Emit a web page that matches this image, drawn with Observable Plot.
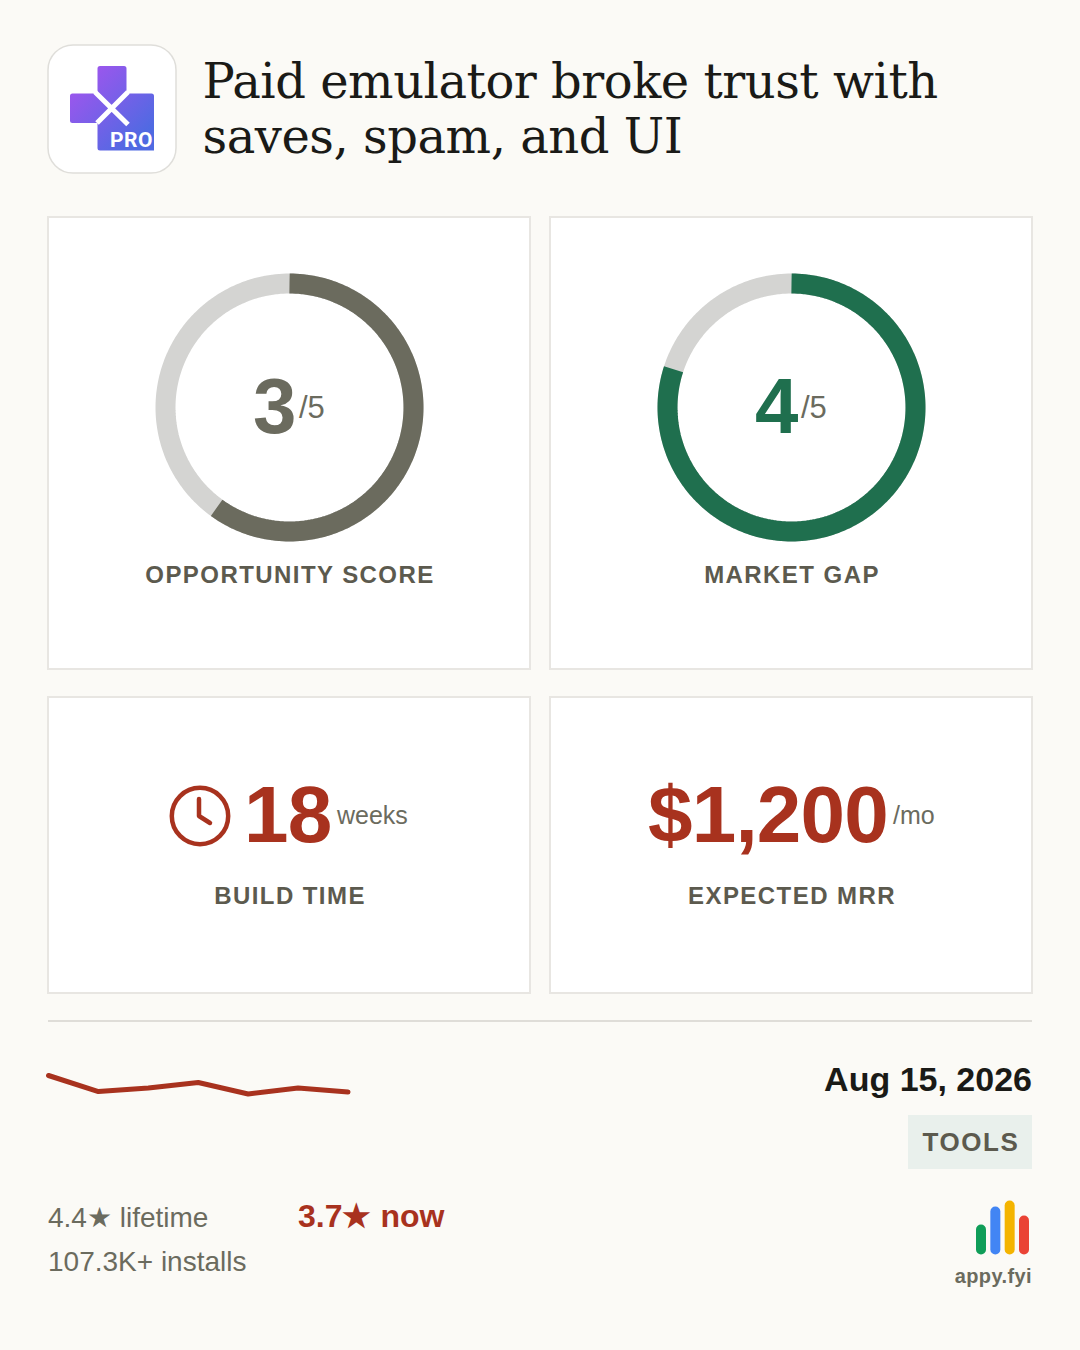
<!DOCTYPE html>
<html><head><meta charset="utf-8">
<script src="https://cdn.jsdelivr.net/npm/d3@7"></script>
<script src="https://cdn.jsdelivr.net/npm/@observablehq/plot@0.6"></script>
<style>
html,body{margin:0;padding:0;background:#fbfaf6}
#page{position:relative;width:1080px;height:1350px;background:#fbfaf6;overflow:hidden;font-family:"Liberation Sans",sans-serif}
.a{position:absolute;white-space:nowrap;line-height:1}
.card{position:absolute;box-sizing:border-box;background:#fff;border:2px solid #e8e6e2}
.lab{font-weight:700;font-size:24px;letter-spacing:1.44px;color:#5c5a4e;text-align:center}
svg{display:block}
</style></head><body><div id="page"></div>
<script>
const title = ["Paid emulator broke trust with", "saves, spam, and UI"];
const scoreLabels = ["OPPORTUNITY SCORE", "MARKET GAP"];
const scores = [3, 4];
const scoreMax = 5;
const scoreColors = ["#6b6b5e", "#1f6f4e"];
const trackColor = "#d4d4d2";
const buildWeeks = 18;
const mrr = "$1,200";
const sparkRatings = [4.40, 3.74, 3.885, 4.11, 3.64, 3.885, 3.72];
const dateLabel = "Aug 15, 2026";
const tagLabel = "TOOLS";
const logoBars = [30, 48, 54, 39];
const logoColors = ["#0f9d58", "#4285f4", "#f4b400", "#ea4335"];
const red = "#a8321e";

const page = document.getElementById("page");
function add(html, css, cls = "a") {
  const d = document.createElement("div");
  d.className = cls; d.style.cssText = css; d.innerHTML = html;
  page.appendChild(d); return d;
}
function place(node, left, top) {
  node.style.position = "absolute"; node.style.left = left + "px"; node.style.top = top + "px";
  node.style.background = "transparent"; page.appendChild(node);
}

// app icon
add(`<svg width="130" height="130" viewBox="0 0 130 130">
<defs><linearGradient id="g" x1="0" y1="0" x2="1" y2="1"><stop offset="0.1" stop-color="#a155ee"/><stop offset="0.85" stop-color="#4f6ae2"/></linearGradient></defs>
<rect x="1" y="1" width="128" height="128" rx="25" fill="#fff" stroke="#dfdeda" stroke-width="1.5"/>
<path fill="url(#g)" d="M53 22h24a2.500 2.500 0 0 1 2.500 2.500V49.500h25a2.500 2.500 0 0 1 2.500 2.500V106.500H53a2.500 2.500 0 0 1-2.500-2.500V79h-25a2.500 2.500 0 0 1-2.500-2.500V52a2.500 2.500 0 0 1 2.500-2.500h25V24.500a2.500 2.500 0 0 1 2.500-2.500z"/>
<path d="M48 48L81 80.500M81 48L50 79" stroke="#fff" stroke-width="5" fill="none"/>
<text x="63" y="102.500" font-family="Roboto" font-weight="700" font-size="21" fill="#fff" letter-spacing="0.500">PRO</text>
</svg>`, "left:47px;top:44px");

// title
title.forEach((t, i) => add(t, `left:202.500px;top:${57 + i * 54.500}px;font-family:'DejaVu Serif',serif;font-size:48px;letter-spacing:-0.48px;color:#1a1a17`));

// cards
[[47, 216, 484, 454], [549, 216, 484, 454], [47, 696, 484, 298], [549, 696, 484, 298]].forEach(c =>
  add("", `left:${c[0]}px;top:${c[1]}px;width:${c[2]}px;height:${c[3]}px`, "card"));

// donuts
function arc(fromFrac, toFrac) {
  const n = Math.max(2, Math.round((toFrac - fromFrac) * 240));
  return d3.range(n + 1).map(i => {
    const t = (fromFrac + (toFrac - fromFrac) * i / n) * 2 * Math.PI;
    return {x: Math.sin(t) * 124, y: Math.cos(t) * 124};
  });
}
scores.forEach((s, i) => {
  const left = i === 0 ? 148.500 : 650.500;
  const plot = Plot.plot({
    width: 280, height: 280, margin: 0, axis: null,
    x: {domain: [-140, 140], range: [0, 280]},
    y: {domain: [-140, 140], range: [280, 0]},
    marks: [
      Plot.line(arc(0, 1), {x: "x", y: "y", stroke: trackColor, strokeWidth: 20, curve: "linear", strokeLinecap: "butt"}),
      Plot.line(arc(0, s / scoreMax), {x: "x", y: "y", stroke: scoreColors[i], strokeWidth: 20, curve: "linear", strokeLinecap: "butt"})
    ]
  });
  place(plot, left, 266.500);
  const cx = (i === 0 ? 149 : 651) + 140;
  add(String(s), `left:${cx - 36}px;top:367px;font-weight:700;font-size:78px;color:${scoreColors[i]}`);
  add("/" + scoreMax, `left:${cx + 10}px;top:392px;font-size:31px;color:#6b6b5e`);
  add(scoreLabels[i], `left:${cx - 239}px;width:480px;top:563px;`, "a lab");
});

// build time
add(`<svg width="64" height="64" viewBox="0 0 64 64" fill="none" stroke="${red}" stroke-width="4.500" stroke-linecap="round" stroke-linejoin="round"><circle cx="32" cy="32" r="28.200"/><path d="M31 15V32L42 39"/></svg>`, "left:167.500px;top:783.500px");
add(String(buildWeeks), `left:244px;top:775px;font-weight:700;font-size:80px;letter-spacing:-0.8px;color:${red}`);
add("weeks", `left:337px;top:803px;font-size:25px;color:#6b6b5e`);
add("BUILD TIME", "left:50px;width:480px;top:884px", "a lab");

// MRR
add(mrr, `left:648px;top:775px;font-weight:700;font-size:80px;letter-spacing:-0.8px;color:${red}`);
add("/mo", `left:893px;top:803px;font-size:25px;color:#6b6b5e`);
add("EXPECTED MRR", "left:552px;width:480px;top:884px", "a lab");

// divider
add("", "left:48px;top:1020px;width:984px;height:2px;background:#dfddd8");

// sparkline
place(Plot.plot({
  width: 320, height: 60, margin: 0, axis: null,
  x: {domain: [0, sparkRatings.length - 1], range: [8, 307.500]},
  y: {domain: [4.4, 3.7], range: [15, 32]},
  marks: [Plot.line(sparkRatings, {x: (d, i) => i, y: d => d, stroke: red, strokeWidth: 5, strokeLinecap: "round", strokeLinejoin: "round", curve: "linear"})]
}), 40, 1060);

// date + tag
add(dateLabel, "right:48px;top:1062px;font-weight:700;font-size:34px;color:#1a1a17");
add(tagLabel, "left:908px;top:1115px;width:124px;height:54px;line-height:54px;text-indent:2px;text-align:center;background:#e9f0ec;font-weight:700;font-size:26px;letter-spacing:1.56px;color:#5c5a4e");

// stats
add("4.4★ lifetime", "left:48px;top:1204px;font-size:28px;color:#6b6b5e");
add("107.3K+ installs", "left:48px;top:1248px;font-size:28px;color:#6b6b5e");
add("3.7★ now", `left:298px;top:1200px;font-weight:700;font-size:32px;color:${red}`);

// logo bars
place(Plot.plot({
  width: 70, height: 64, margin: 0, axis: null,
  x: {domain: [0, 3], range: [10.500, 53.500]},
  y: {domain: [0, 54], range: [59, 5]},
  marks: [Plot.link(logoBars, {x1: (d, i) => i, x2: (d, i) => i, y1: d => 5, y2: d => d - 5, stroke: (d, i) => logoColors[i], strokeWidth: 10, strokeLinecap: "round"})]
}), 970, 1195);
add("appy.fyi", "right:48px;top:1266px;font-weight:700;font-size:20px;letter-spacing:.4px;color:#6b6b5e");
</script></body></html>
